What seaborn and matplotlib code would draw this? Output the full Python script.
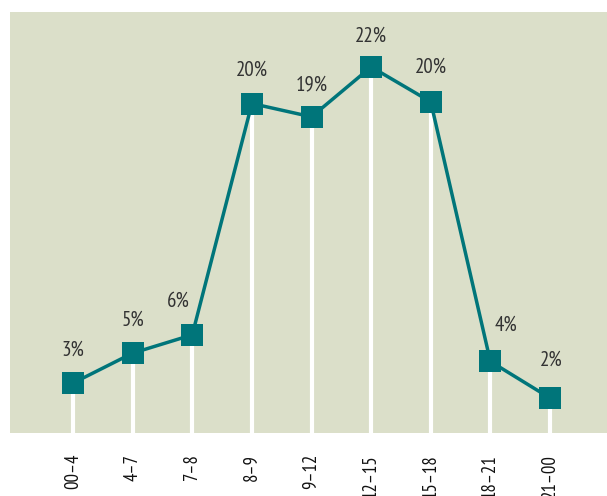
import matplotlib
matplotlib.use("Agg")
import matplotlib.pyplot as plt
import seaborn as sns
import pandas as pd

# hourly share of records
periods = ["00-4", "4-7", "7-8", "8-9", "9-12", "12-15", "15-18", "18-21", "21-00"]
tick_labels = ["00–4", "4–7", "7–8", "8–9", "9–12", "12–15", "15–18", "18–21", "21–00"]
shares = [3.0, 4.8, 5.9, 19.8, 19.0, 22.0, 19.9, 4.3, 2.1]
labels = ["3%", "5%", "6%", "20%", "19%", "22%", "20%", "4%", "2%"]

df = pd.DataFrame({"pos": range(len(periods)), "share": shares})

sns.set_style("white")
plt.rcParams["font.family"] = ["PT Sans Narrow", "DejaVu Sans"]

teal = "#00757a"
panel = "#dbdfc9"

fig = plt.figure(figsize=(6.07, 4.96), dpi=100)
ax = fig.add_axes([10 / 607, 1 - 433 / 496, 1 - 10 / 607, (433 - 12) / 496])
ax.set_facecolor(panel)

# white drop lines from each point to the floor
ax.vlines(df["pos"], 0, df["share"], color="white", linewidth=3, zorder=1)

sns.lineplot(data=df, x="pos", y="share", ax=ax, color=teal, linewidth=2.5,
             marker="s", markersize=16.5, markeredgewidth=0, zorder=3)

# label nudges (points) so text clears the line
nudges = [(0, 24), (0, 24), (-10, 24), (0, 24), (0, 23), (0, 22), (0, 25), (11, 26), (1, 27)]
for x, y, t, (dx, dy) in zip(df["pos"], df["share"], labels, nudges):
    ax.annotate(t, (x, y), xytext=(dx, dy), textcoords="offset points",
                ha="center", va="center", fontsize=15, color="#333333")

ax.set_xlim(-1.057, 8.956)
ax.set_ylim(0, 25.3)
ax.set_xticks(df["pos"])
ax.set_xticklabels(tick_labels, rotation=90, fontsize=13.5, color="#111111")
ax.set_yticks([])
ax.set_xlabel("")
ax.set_ylabel("")
ax.tick_params(axis="x", length=0, pad=15)
for s in ax.spines.values():
    s.set_visible(False)

fig.savefig("out.png", dpi=100)
